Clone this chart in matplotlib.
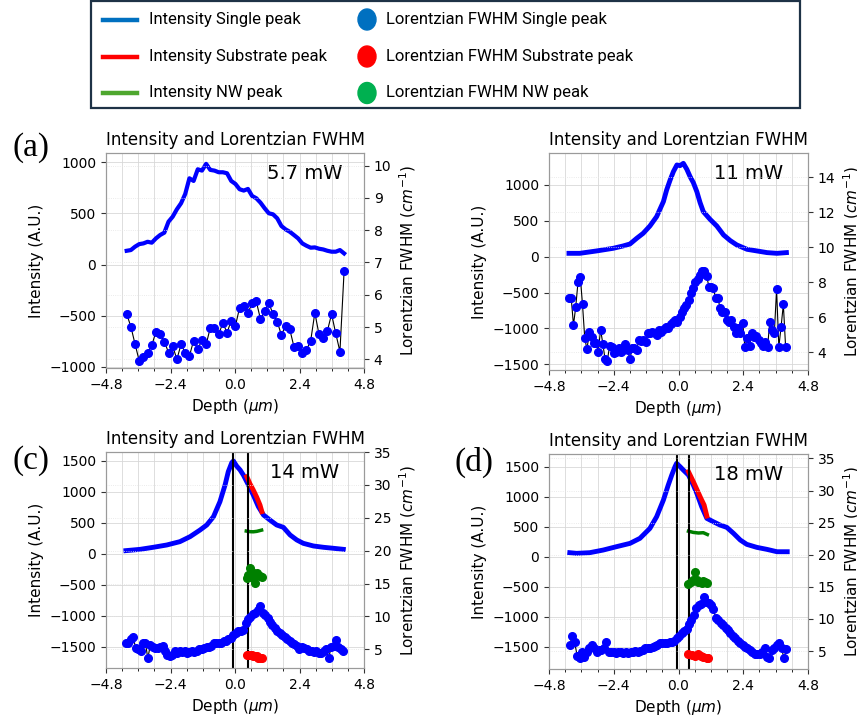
import matplotlib.pyplot as plt
import numpy as np
from matplotlib.lines import Line2D
from matplotlib.patches import Rectangle, Ellipse
from matplotlib.ticker import MultipleLocator

# (a) 5.7 mW : single peak only
a_int = [135, 142, 175, 200, 207, 223, 214, 256, 289, 312, 419, 468, 540, 599, 690,
         843, 817, 931, 918, 984, 925, 918, 902, 902, 892, 817, 788, 736, 723, 739,
         670, 648, 605, 550, 501, 491, 452, 377, 344, 321, 289, 256, 207, 184, 165,
         168, 155, 148, 135, 126, 126, 142, 109]
a_fwhm = [5.40, 5.01, 4.47, 3.95, 4.08, 4.21, 4.43, 4.86, 4.78, 4.55, 4.21, 4.41, 4.00,
          4.46, 4.21, 4.10, 4.58, 4.31, 4.60, 4.46, 4.98, 4.98, 4.77, 5.13, 4.82, 5.20,
          5.03, 5.60, 5.66, 5.44, 5.73, 5.79, 5.24, 5.50, 5.75, 5.39, 5.17, 4.75, 5.04,
          4.93, 4.39, 4.42, 4.21, 4.29, 4.57, 5.44, 4.77, 4.67, 4.88, 5.40, 4.80, 4.24, 6.74]
a_depth = np.linspace(-4.03, 4.06, len(a_fwhm))

# (b) 11 mW
b_int_depth = [-4.06, -3.66, -3.04, -2.42, -2.05, -1.80, -1.55, -1.31, -1.06, -0.81, -0.56,
               -0.44, -0.31, -0.19, -0.06, 0.06, 0.18, 0.31, 0.43, 0.55, 0.68, 0.80, 0.92,
               1.17, 1.42, 1.67, 1.92, 2.16, 2.54, 2.91, 3.28, 3.65, 4.00]
b_int = [47, 47, 80, 117, 150, 177, 256, 326, 428, 559, 768, 930, 1070, 1186, 1279, 1270,
         1302, 1218, 1116, 1033, 907, 754, 628, 521, 428, 303, 224, 164, 103, 80, 57, 47, 57]
b_fwhm = [7.09, 7.09, 5.56, 6.6, 8.0, 8.32, 6.74, 4.8, 4.17, 5.18, 4.86, 4.55, 4.55, 4.04,
          5.3, 4.5, 3.6, 3.52, 4.36, 4.32, 3.94, 4.02, 4.23, 4.04, 4.13, 4.5, 4.13, 3.6,
          4.23, 4.23, 4.13, 4.7, 4.66, 4.7, 4.6, 5.09, 5.09, 5.16, 5.09, 4.99, 5.28, 5.18,
          5.31, 5.47, 5.37, 5.62, 5.75, 5.85, 5.75, 6.04, 6.32, 6.51, 6.7, 6.99, 7.37, 7.66,
          8.04, 8.17, 8.42, 8.65, 8.65, 8.38, 7.75, 7.75, 7.66, 7.09, 7.09, 6.51, 6.32, 6.32,
          5.85, 5.75, 5.85, 5.47, 5.09, 5.37, 5.09, 5.66, 4.32, 4.8, 4.36, 5.09, 4.9, 4.93,
          4.7, 4.51, 4.36, 4.6, 4.3, 5.75, 5.28, 5.09, 7.6, 4.3, 5.47, 6.74, 4.3]
b_depth = np.linspace(-4.06, 3.97, len(b_fwhm))

# (c) 14 mW : single peak splits into substrate + NW peaks
c_int_depth = [-4.06, -3.53, -3.04, -2.54, -2.05, -1.67, -1.30, -1.05, -0.80, -0.56, -0.37,
               -0.25, -0.12, -0.06, 0.06, 0.19, 0.31, 0.50, 0.68, 0.87, 1.06, 1.30, 1.55,
               1.80, 2.05, 2.30, 2.54, 2.92, 3.29, 3.66, 4.03]
c_int = [54, 75, 108, 145, 199, 280, 387, 468, 602, 844, 1113, 1328, 1473, 1500, 1419, 1355,
         1274, 1113, 952, 763, 629, 548, 468, 430, 307, 226, 172, 129, 108, 92, 75]
c_fwhm = [6.0, 6.0, 6.5, 6.8, 5.2, 5.0, 4.8, 6.0, 5.9, 3.6, 5.7, 5.3, 5.2, 5.2, 5.3, 5.5,
          4.8, 4.1, 4.0, 4.1, 4.8, 4.4, 4.8, 4.6, 4.8, 4.5, 4.6, 4.8, 4.6, 4.8, 5.0, 5.0,
          5.2, 5.3, 5.3, 5.5, 6.0, 6.0, 6.0, 5.9, 6.2, 6.3, 6.5, 6.7, 7.2, 7.5, 7.8, 7.8,
          7.9, 8.96, 9.6, 9.9, 10.4, 10.5, 11.0, 11.6, 10.5, 10.2, 9.7, 9.2, 8.7, 8.2, 7.8,
          7.5, 7.2, 6.8, 6.5, 6.3, 5.9, 5.8, 5.5, 5.0, 5.3, 5.2, 5.0, 4.8, 4.8, 4.6, 4.8,
          4.5, 4.4, 4.8, 5.0, 3.6, 5.3, 5.5, 6.4, 5.3, 5.0, 4.8]
c_depth = np.linspace(-4.06, 4.03, len(c_fwhm))
c_sub_int_depth = [0.44, 0.56, 0.68, 0.81, 0.93, 1.00]
c_sub_int = [1247, 1129, 1032, 914, 790, 683]
c_nw_int_depth = [0.42, 0.56, 0.68, 0.81, 0.99]
c_nw_int = [370, 360, 358, 365, 385]
c_split_depth = [0.44, 0.50, 0.56, 0.62, 0.68, 0.74, 0.81, 0.87, 0.93, 1.00]
c_sub_fwhm = [4.1, 4.15, 4.1, 4.2, 4.0, 3.9, 3.95, 3.7, 3.6, 3.65]
c_nw_fwhm = [15.8, 16.3, 17.3, 16.8, 15.8, 15.05, 16.6, 16.3, 16.1, 16.0]
c_marks = [-0.06, 0.50]

# (d) 18 mW
d_int_depth = [-4.03, -3.78, -3.29, -2.79, -2.30, -1.80, -1.43, -1.06, -0.81, -0.56, -0.38,
               -0.25, -0.13, -0.07, 0.06, 0.18, 0.37, 0.55, 0.68, 0.86, 1.05, 1.29, 1.54,
               1.79, 2.04, 2.29, 2.53, 2.90, 3.28, 3.65, 4.03]
d_int = [67, 56, 67, 111, 167, 222, 306, 472, 667, 944, 1194, 1361, 1500, 1556, 1500, 1444,
         1361, 1194, 1056, 833, 639, 583, 528, 489, 389, 278, 206, 156, 122, 83, 83]
d_fwhm = [5.93, 7.4, 6.45, 4.27, 3.96, 4.9, 4.1, 4.9, 5.4, 5.9, 5.4, 4.9, 5.15, 5.15, 5.4,
          6.35, 4.9, 4.8, 4.8, 4.65, 4.9, 4.8, 4.65, 4.9, 4.65, 4.9, 4.8, 5.0, 4.9, 5.0,
          5.15, 5.4, 5.4, 5.5, 5.7, 5.8, 5.9, 6.2, 6.2, 6.25, 6.3, 6.35, 6.4, 6.6, 7.0,
          7.4, 7.8, 8.1, 8.5, 9.2, 9.8, 10.6, 11.7, 12.2, 12.3, 13.4, 12.6, 12.5, 12.2, 11.6,
          10.1, 9.8, 9.4, 9.0, 8.6, 8.2, 7.8, 7.4, 7.0, 6.6, 6.3, 5.9, 5.6, 5.4, 5.2,
          4.8, 4.5, 4.5, 4.6, 4.9, 5.4, 4.1, 3.9, 5.2, 5.4, 5.9, 6.2, 5.4, 3.9, 5.3]
d_depth = np.linspace(-4.03, 4.0, len(d_fwhm))
d_sub_int_depth = [0.37, 0.55, 0.68, 0.83, 0.95, 1.05]
d_sub_int = [1417, 1250, 1122, 972, 861, 678]
d_nw_int_depth = [0.37, 0.55, 0.74, 0.92, 1.07]
d_nw_int = [425, 405, 395, 400, 370]
d_sub_fwhm_depth = [0.36, 0.49, 0.61, 0.73, 0.82, 0.92, 1.05, 1.10]
d_sub_fwhm = [4.5, 4.4, 4.3, 4.5, 4.2, 4.1, 3.95, 3.85]
d_nw_fwhm_depth = [0.37, 0.45, 0.55, 0.61, 0.67, 0.74, 0.80, 0.86, 0.92, 1.00, 1.05]
d_nw_fwhm = [15.5, 15.8, 16.0, 17.3, 16.1, 15.7, 15.8, 15.6, 15.9, 15.7, 15.6]
d_marks = [-0.07, 0.38]

x_ticks = [-4.8, -2.4, 0.0, 2.4, 4.8]
x_labels = ['\u22124.8', '\u22122.4', '0.0', '2.4', '4.8']

W, H = 857, 723
fig = plt.figure(figsize=(W / 100, H / 100), dpi=100)


def px_box(l, t, r, b):
    return [l / W, 1 - b / H, (r - l) / W, (b - t) / H]


def ticklabels(vals):
    return [str(v).replace('-', '\u2212') for v in vals]


def make_panel(box, ylim, yticks, ylim2, yticks2, power):
    ax = fig.add_axes(px_box(*box))
    ax2 = ax.twinx()
    ax.set_xlim(-4.8, 4.8)
    ax.set_xticks(x_ticks, labels=x_labels)
    ax.xaxis.set_minor_locator(MultipleLocator(0.6))
    ax.set_ylim(*ylim)
    ax.set_yticks(yticks, labels=ticklabels(yticks))
    ax2.set_ylim(*ylim2)
    ax2.set_yticks(yticks2, labels=ticklabels(yticks2))
    ax.grid(which='both', axis='x', color='#d8d8d8', lw=0.6)
    ax.grid(which='major', axis='y', color='#d8d8d8', lw=0.6)
    ax2.grid(which='major', axis='y', color='#e4e4e4', lw=0.6, ls=':')
    for a in (ax, ax2):
        for s in a.spines.values():
            s.set_color('#9a9a9a')
        a.tick_params(labelsize=10, color='#333333')
    ax.set_xlabel('Depth ($\\mu m$)', fontsize=11)
    ax.set_ylabel('Intensity (A.U.)', fontsize=11)
    ax2.set_ylabel('Lorentzian FWHM ($cm^{-1}$)', fontsize=11)
    ax.set_title('Intensity and Lorentzian FWHM', fontsize=12, pad=6)
    ax.text(0.77, 0.905, power, transform=ax.transAxes, ha='center', va='center',
            fontsize=14)
    return ax, ax2


def fwhm(ax2, x, y, color, ms=5.5):
    ax2.plot(x, y, color='black', lw=0.8, marker='o', ms=ms, mfc=color, mec=color)


# (a)
ax, ax2 = make_panel((106, 153, 364, 368), (-1010, 1090), [-1000, -500, 0, 500, 1000],
                     (3.73, 10.39), [4, 5, 6, 7, 8, 9, 10], '5.7 mW')
ax.plot(a_depth, a_int, color='blue', lw=3)
fwhm(ax2, a_depth, a_fwhm, 'blue')

# (b)
ax, ax2 = make_panel((549, 153, 808, 370), (-1580, 1446), [-1500, -1000, -500, 0, 500, 1000],
                     (2.99, 15.39), [4, 6, 8, 10, 12, 14], '11 mW')
ax.plot(b_int_depth, b_int, color='blue', lw=3.5)
fwhm(ax2, b_depth, b_fwhm, 'blue')

# (c)
ax, ax2 = make_panel((106, 452, 364, 668), (-1839, 1645),
                     [-1500, -1000, -500, 0, 500, 1000, 1500],
                     (2.15, 35.0), [5, 10, 15, 20, 25, 30, 35], '14 mW')
ax.plot(c_int_depth, c_int, color='blue', lw=3.5)
ax.plot(c_sub_int_depth, c_sub_int, color='red', lw=3.5)
ax.plot(c_nw_int_depth, c_nw_int, color='green', lw=2.5)
fwhm(ax2, c_depth, c_fwhm, 'blue')
fwhm(ax2, c_split_depth, c_sub_fwhm, 'red')
fwhm(ax2, c_split_depth, c_nw_fwhm, 'green')
for m in c_marks:
    ax.axvline(m, color='black', lw=1.5)

# (d)
ax, ax2 = make_panel((549, 454, 808, 669), (-1872, 1712),
                     [-1500, -1000, -500, 0, 500, 1000, 1500],
                     (2.2, 35.7), [5, 10, 15, 20, 25, 30, 35], '18 mW')
ax.plot(d_int_depth, d_int, color='blue', lw=3.5)
ax.plot(d_sub_int_depth, d_sub_int, color='red', lw=3.5)
ax.plot(d_nw_int_depth, d_nw_int, color='green', lw=2.5)
fwhm(ax2, d_depth, d_fwhm, 'blue')
fwhm(ax2, d_sub_fwhm_depth, d_sub_fwhm, 'red')
fwhm(ax2, d_nw_fwhm_depth, d_nw_fwhm, 'green')
for m in d_marks:
    ax.axvline(m, color='black', lw=1.5)

# panel letters
for lbl, x, y in [('(a)', 12, 148), ('(c)', 12, 461), ('(d)', 455, 462)]:
    fig.text(x / W, 1 - y / H, lbl, family='Liberation Serif', fontsize=24,
             ha='left', va='center')

# shared legend box on top
fig.add_artist(Rectangle((91 / W, 1 - 108 / H), 709 / W, 107 / H, transform=fig.transFigure,
                         fill=False, ec='#1e3246', lw=1.6))
leg_lines = [('Intensity Single peak', '#0070c0'),
             ('Intensity Substrate peak', '#ff0000'),
             ('Intensity NW peak', '#4ea72e')]
leg_dots = [('Lorentzian FWHM Single peak', '#0070c0'),
            ('Lorentzian FWHM Substrate peak', '#ff0000'),
            ('Lorentzian FWHM NW peak', '#00b050')]
rows = [19.5, 56.5, 93]
for (txt, col), y in zip(leg_lines, rows):
    fig.add_artist(Line2D([103 / W, 137 / W], [1 - y / H] * 2, transform=fig.transFigure,
                          color=col, lw=3.2))
    fig.text(149 / W, 1 - y / H, txt, family='Roboto', fontsize=12, va='center')
for (txt, col), y in zip(leg_dots, rows):
    fig.add_artist(Ellipse((367 / W, 1 - y / H), 18 / W, 21 / H, transform=fig.transFigure,
                           color=col))
    fig.text(386 / W, 1 - y / H, txt, family='Roboto', fontsize=12, va='center')

fig.savefig('out.png', dpi=100)
